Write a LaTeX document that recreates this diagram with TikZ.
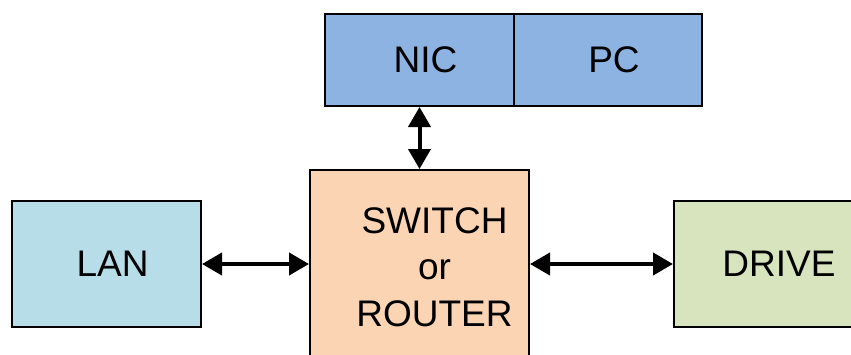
\documentclass[tikz,border=0pt]{standalone}
\usepackage{fontspec}
\setmainfont{Liberation Sans}
\usetikzlibrary{arrows.meta, calc}

\definecolor{nicblue}{HTML}{8DB3E2}
\definecolor{lanblue}{HTML}{B7DDE8}
\definecolor{switchorange}{HTML}{FBD4B4}
\definecolor{drivegreen}{HTML}{D7E4BD}

\begin{document}
\begin{tikzpicture}[
    x=1pt, y=-1pt,
    >={Triangle[length=20pt, width=22pt]},
    box/.style={draw=black, line width=2pt, fill=#1, inner sep=0pt},
    boxtext/.style={font=\fontsize{37}{46.5}\selectfont, align=center},
    link/.style={<->, line width=4pt}
]

\useasboundingbox (0,0) rectangle (851,354);

% --- Top row: NIC | PC ---
\node[box=nicblue, minimum width=189pt, minimum height=92pt,
      label={[boxtext, xshift=6pt]center:NIC}] (nic) at (419.5,60) {};
\node[box=nicblue, minimum width=188pt, minimum height=92pt,
      label={[boxtext, xshift=6pt]center:PC}] (pc) at (608,60) {};

% --- Middle: switch or router (runs off the bottom) ---
\node[box=switchorange, minimum width=219pt, minimum height=200pt,
      label={[boxtext, xshift=15pt, yshift=3pt]center:SWITCH\\or\\ROUTER}] (switch) at (419.5,270) {};

% --- Sides: LAN and DRIVE ---
\node[box=lanblue, minimum width=189pt, minimum height=126pt,
      label={[boxtext, xshift=6pt]center:LAN}] (lan) at (106.5,264) {};
\node[box=drivegreen, minimum width=190pt, minimum height=126pt,
      label={[boxtext, xshift=10pt]center:DRIVE}] (drive) at (769,264) {};

% --- Links ---
\draw[link] (nic.south) -- (nic.south |- switch.north);
\draw[link] (lan.east) -- (lan.east -| switch.west);
\draw[link] (switch.east |- drive.west) -- (drive.west);

\end{tikzpicture}
\end{document}
